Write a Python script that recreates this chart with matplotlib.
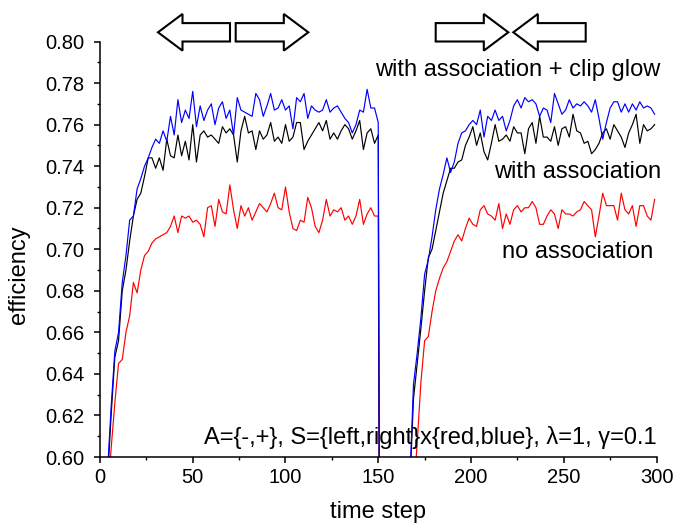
import matplotlib
matplotlib.use('Agg')
import matplotlib.pyplot as plt
from matplotlib.patches import FancyArrow
from matplotlib.ticker import MultipleLocator
from matplotlib.transforms import IdentityTransform

plt.rcParams['font.family'] = ['Liberation Sans', 'DejaVu Sans']

# time axis: first run sampled on even steps up to 150, second run (after the reset) on odd steps
steps_run1 = list(range(0, 151, 2))
steps_run2 = list(range(151, 300, 2))

# with association + clip glow (blue)
glow_run1 = [0.535, 0.562, 0.592, 0.624, 0.651, 0.660, 0.684, 0.697, 0.714, 0.716,
             0.729, 0.734, 0.740, 0.744, 0.749, 0.753, 0.751, 0.757, 0.752, 0.764,
             0.755, 0.772, 0.761, 0.767, 0.763, 0.776, 0.759, 0.769, 0.762, 0.767,
             0.770, 0.760, 0.768, 0.771, 0.763, 0.767, 0.755, 0.773, 0.767, 0.766,
             0.765, 0.764, 0.775, 0.772, 0.764, 0.769, 0.775, 0.767, 0.768, 0.772,
             0.767, 0.769, 0.758, 0.773, 0.771, 0.775, 0.763, 0.769, 0.767, 0.766,
             0.767, 0.772, 0.766, 0.768, 0.769, 0.766, 0.763, 0.761, 0.756, 0.760,
             0.767, 0.766, 0.777, 0.768, 0.768, 0.761]
glow_run2 = [0.450, 0.450, 0.460, 0.470, 0.480, 0.500, 0.530, 0.560, 0.588, 0.635,
             0.650, 0.667, 0.688, 0.695, 0.706, 0.719, 0.729, 0.736, 0.744, 0.737,
             0.742, 0.751, 0.756, 0.757, 0.760, 0.762, 0.760, 0.767, 0.754, 0.764,
             0.762, 0.767, 0.762, 0.764, 0.757, 0.762, 0.769, 0.772, 0.768, 0.773,
             0.771, 0.772, 0.770, 0.764, 0.768, 0.767, 0.761, 0.775, 0.770, 0.765,
             0.767, 0.772, 0.768, 0.770, 0.769, 0.771, 0.769, 0.766, 0.772, 0.763,
             0.753, 0.761, 0.768, 0.771, 0.771, 0.766, 0.770, 0.766, 0.770, 0.767,
             0.771, 0.768, 0.769, 0.768, 0.765]

# with association (black)
assoc_run1 = [0.530, 0.558, 0.588, 0.620, 0.648, 0.656, 0.680, 0.690, 0.704, 0.716,
              0.724, 0.727, 0.735, 0.744, 0.744, 0.739, 0.744, 0.738, 0.753, 0.745,
              0.744, 0.755, 0.745, 0.752, 0.743, 0.760, 0.742, 0.755, 0.757, 0.754,
              0.755, 0.753, 0.751, 0.759, 0.756, 0.758, 0.755, 0.742, 0.757, 0.764,
              0.756, 0.757, 0.748, 0.757, 0.753, 0.755, 0.761, 0.752, 0.754, 0.751,
              0.760, 0.752, 0.754, 0.761, 0.761, 0.748, 0.752, 0.755, 0.758, 0.761,
              0.757, 0.762, 0.753, 0.756, 0.753, 0.757, 0.760, 0.758, 0.753, 0.757,
              0.762, 0.748, 0.756, 0.758, 0.751, 0.755]
assoc_run2 = [0.450, 0.450, 0.460, 0.470, 0.480, 0.500, 0.530, 0.558, 0.585, 0.628,
              0.645, 0.662, 0.680, 0.696, 0.700, 0.709, 0.718, 0.727, 0.733, 0.739,
              0.739, 0.742, 0.743, 0.750, 0.754, 0.759, 0.750, 0.756, 0.747, 0.743,
              0.751, 0.760, 0.752, 0.753, 0.755, 0.752, 0.759, 0.756, 0.756, 0.746,
              0.758, 0.761, 0.751, 0.764, 0.754, 0.754, 0.752, 0.759, 0.750, 0.758,
              0.759, 0.754, 0.765, 0.757, 0.756, 0.751, 0.752, 0.746, 0.748, 0.751,
              0.756, 0.758, 0.753, 0.760, 0.757, 0.754, 0.749, 0.756, 0.760, 0.765,
              0.751, 0.760, 0.757, 0.758, 0.760]

# no association (red)
none_run1 = [0.520, 0.548, 0.578, 0.604, 0.626, 0.645, 0.647, 0.660, 0.668, 0.684,
             0.679, 0.690, 0.697, 0.699, 0.703, 0.705, 0.706, 0.707, 0.708, 0.711,
             0.716, 0.708, 0.716, 0.715, 0.716, 0.713, 0.714, 0.712, 0.706, 0.720,
             0.721, 0.711, 0.724, 0.718, 0.717, 0.731, 0.719, 0.710, 0.721, 0.716,
             0.720, 0.714, 0.718, 0.722, 0.720, 0.718, 0.722, 0.727, 0.720, 0.719,
             0.730, 0.718, 0.710, 0.709, 0.714, 0.713, 0.725, 0.720, 0.711, 0.708,
             0.714, 0.724, 0.716, 0.719, 0.718, 0.720, 0.714, 0.716, 0.712, 0.716,
             0.724, 0.712, 0.717, 0.720, 0.716, 0.716]
none_run2 = [0.440, 0.440, 0.450, 0.460, 0.470, 0.480, 0.500, 0.530, 0.555, 0.580,
             0.607, 0.636, 0.656, 0.658, 0.670, 0.680, 0.686, 0.691, 0.694, 0.699,
             0.704, 0.707, 0.704, 0.710, 0.715, 0.712, 0.711, 0.719, 0.721, 0.717,
             0.716, 0.714, 0.722, 0.710, 0.717, 0.712, 0.719, 0.721, 0.718, 0.720,
             0.720, 0.723, 0.720, 0.712, 0.712, 0.716, 0.719, 0.717, 0.710, 0.719,
             0.717, 0.717, 0.716, 0.718, 0.719, 0.723, 0.721, 0.719, 0.706, 0.716,
             0.727, 0.721, 0.721, 0.721, 0.714, 0.727, 0.719, 0.717, 0.721, 0.711,
             0.721, 0.721, 0.716, 0.714, 0.724]

steps = steps_run1 + steps_run2
series = [
    ("no association", none_run1 + none_run2, "#ff0000"),
    ("with association", assoc_run1 + assoc_run2, "black"),
    ("with association + clip glow", glow_run1 + glow_run2, "#0000ff"),
]

fig = plt.figure(figsize=(6.92, 5.27), dpi=100)
ax = fig.add_axes([0.1445, 0.1328, 0.8042, 0.7884])

for name, vals, col in series:
    ax.plot(steps, vals, color=col, lw=0.85, label=name)

ax.set_xlim(0, 300)
ax.set_ylim(0.60, 0.80)
ax.xaxis.set_major_locator(MultipleLocator(50))
ax.xaxis.set_minor_locator(MultipleLocator(25))
ax.yaxis.set_major_locator(MultipleLocator(0.02))
ax.yaxis.set_minor_locator(MultipleLocator(0.01))
ax.yaxis.set_major_formatter(lambda v, p: f"{v:.2f}")
for s in ['top', 'right']:
    ax.spines[s].set_visible(False)
for s in ['left', 'bottom']:
    ax.spines[s].set_linewidth(1.1)
ax.tick_params(which='major', direction='out', length=4, width=1.1, labelsize=14.5)
ax.tick_params(which='minor', direction='out', length=2.5, width=1.0)
ax.tick_params(axis='x', which='major', pad=4)
ax.tick_params(axis='y', which='major', pad=7)

ax.set_xlabel("time step", fontsize=17, va='center')
ax.set_ylabel("efficiency", fontsize=17)
ax.xaxis.set_label_coords(0.5, -0.133)
ax.yaxis.set_label_coords(-0.125, 0.44)

# series names written next to the curves
ax.text(1.006, 0.931, "with association + clip glow", transform=ax.transAxes,
        ha='right', va='center', fontsize=17)
ax.text(1.009, 0.687, "with association", transform=ax.transAxes,
        ha='right', va='center', fontsize=17)
ax.text(0.994, 0.494, "no association", transform=ax.transAxes,
        ha='right', va='center', fontsize=17)
ax.text(1.001, 0.048, "A={-,+}, S={left,right}x{red,blue}, \u03bb=1, \u03b3=0.1",
        transform=ax.transAxes, ha='right', va='center', fontsize=17)

# outlined block arrows above the plot (pixel positions: tail, tip)
arrow_px = [(230, 158), (235.7, 308.3), (435.7, 508.3), (585.7, 513.3)]
H = 527
for tail, tip in arrow_px:
    fig.add_artist(FancyArrow(tail, H - 32.3, tip - tail, 0, width=18.4,
                              head_width=36.7, head_length=24.5,
                              length_includes_head=True,
                              transform=IdentityTransform(),
                              facecolor='white', edgecolor='black', lw=1.5))

fig.savefig("out.png", dpi=100)
